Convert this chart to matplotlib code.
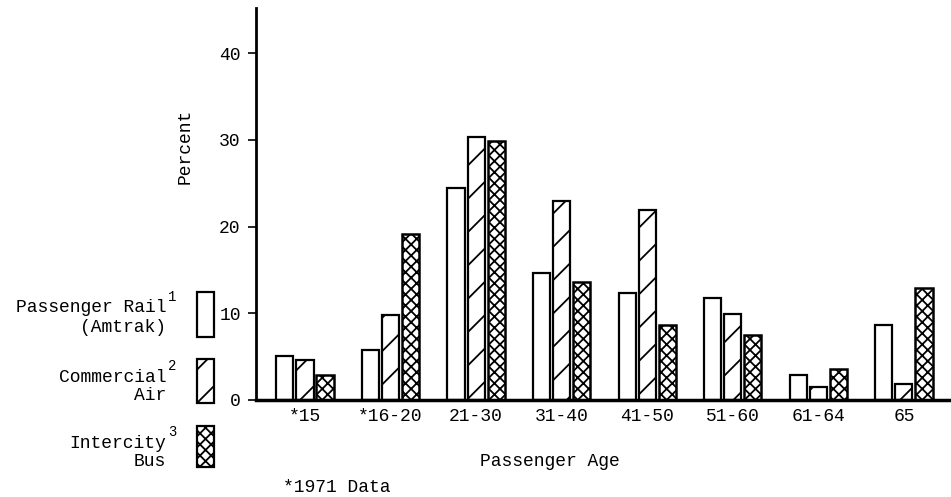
import matplotlib
matplotlib.use("Agg")
import matplotlib.pyplot as plt
from matplotlib.patches import Rectangle
import numpy as np

ages = ["*15", "*16-20", "21-30", "31-40", "41-50", "51-60", "61-64", "65"]
rail = [5.1, 5.8, 24.5, 14.6, 12.3, 11.8, 2.9, 8.6]
air = [4.6, 9.8, 30.3, 22.9, 21.9, 9.9, 1.5, 1.8]
bus = [2.9, 19.1, 29.9, 13.6, 8.6, 7.5, 3.6, 12.9]

W, H = 951, 497
FONT = "Liberation Mono"
FS = 13
plt.rcParams["font.family"] = FONT
plt.rcParams["hatch.linewidth"] = 1.3

fig = plt.figure(figsize=(W / 100, H / 100), dpi=100)
ax = fig.add_axes([256 / W, 1 - 400 / H, 1 - 256 / W, (400 - 8) / H])


def px(x, y):
    # pixel position -> figure fraction
    return x / W, 1 - y / H


x = np.arange(len(ages))
bw = 0.2
step = 0.235
ax.bar(x - step, rail, bw, color="white", edgecolor="black", linewidth=1.6)
ax.bar(x, air, bw, color="white", edgecolor="black", linewidth=1.6, hatch="/")
ax.bar(x + step, bus, bw, color="white", edgecolor="black", linewidth=1.8, hatch="xxx")

ax.set_xlim(-0.572, 7.55)
ax.set_ylim(0, 45.2)
ax.set_yticks([0, 10, 20, 30, 40])
ax.set_xticks(x)
ax.set_xticklabels(ages)
ax.tick_params(axis="x", length=0, pad=6, labelsize=FS)
ax.tick_params(axis="y", length=6, width=1.2, pad=5, labelsize=FS)
for s in ["top", "right"]:
    ax.spines[s].set_visible(False)
ax.spines["left"].set_linewidth(2)
ax.spines["bottom"].set_linewidth(2.5)

ax.text(-0.102, 0.648, "Percent", transform=ax.transAxes, rotation=90,
        ha="center", va="center", fontsize=FS)
fig.text(*px(550, 462), "Passenger Age", ha="center", va="center", fontsize=FS)
fig.text(*px(283, 488), "*1971 Data", ha="left", va="center", fontsize=FS)

# legend drawn by hand on the left
legend = [
    ("Passenger Rail", "(Amtrak)", "1", None, 308, 327, 292, 337),
    ("Commercial", "Air", "2", "/", 377, 395, 359, 403),
    ("Intercity", "Bus", "3", "xxx", 443, 462, 426, 467),
]
for top, bottom, sup, hatch, y1, y2, by0, by1 in legend:
    fig.text(*px(166, y1), top, ha="right", va="center", fontsize=FS)
    fig.text(*px(166, y2), bottom, ha="right", va="center", fontsize=FS)
    fig.text(*px(168, y1 - 11), sup, ha="left", va="center", fontsize=10)
    x0, yb = px(197, by1)
    rect = Rectangle((x0, yb), 17 / W, (by1 - by0) / H, transform=fig.transFigure,
                     facecolor="white", edgecolor="black", linewidth=1.6,
                     hatch=hatch)
    fig.patches.append(rect)

fig.savefig("out.png", dpi=100)
